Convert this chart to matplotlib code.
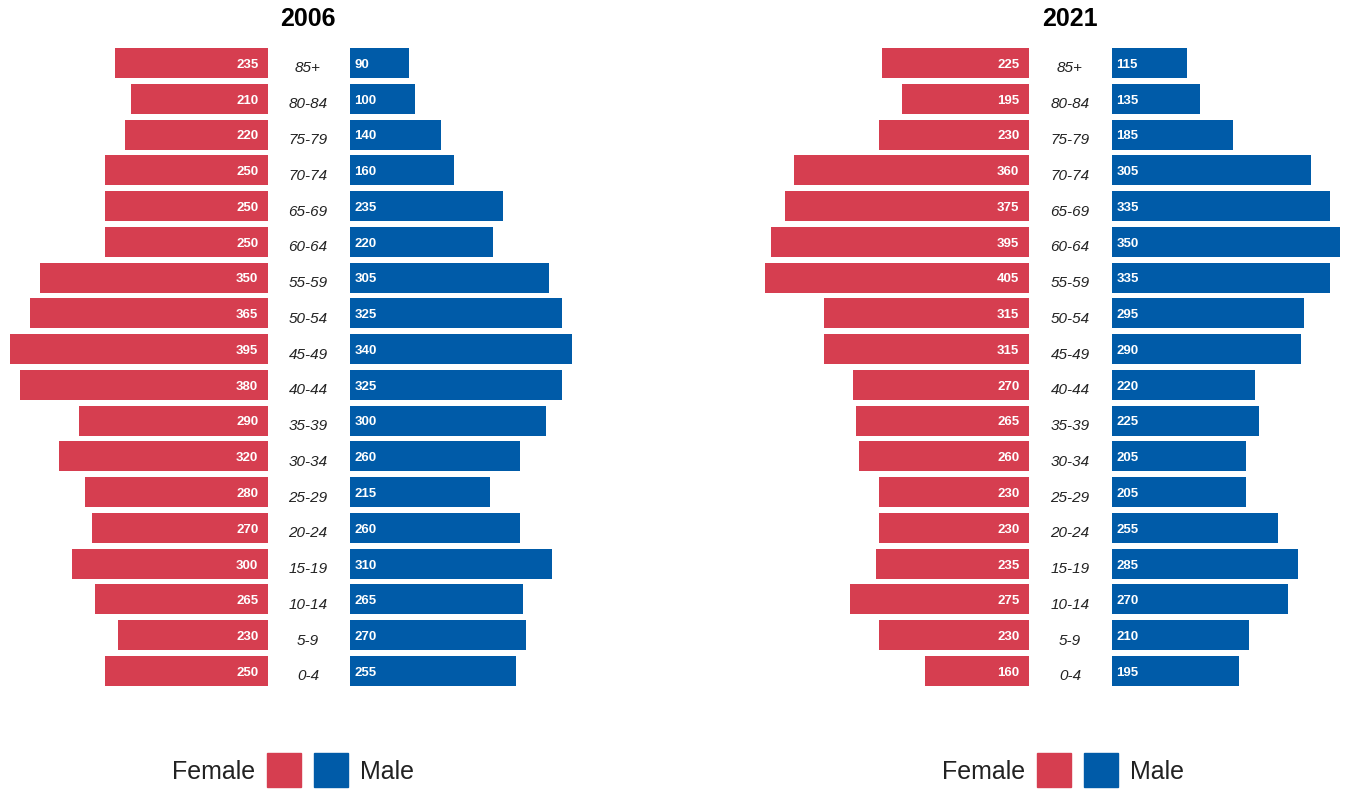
import matplotlib
matplotlib.use("Agg")
from matplotlib import pyplot as plt
from matplotlib.patches import Rectangle

ages = ['85+', '80-84', '75-79', '70-74', '65-69', '60-64', '55-59', '50-54', '45-49',
        '40-44', '35-39', '30-34', '25-29', '20-24', '15-19', '10-14', '5-9', '0-4']

female_2006 = [235, 210, 220, 250, 250, 250, 350, 365, 395, 380, 290, 320, 280, 270, 300, 265, 230, 250]
male_2006 = [90, 100, 140, 160, 235, 220, 305, 325, 340, 325, 300, 260, 215, 260, 310, 265, 270, 255]
female_2021 = [225, 195, 230, 360, 375, 395, 405, 315, 315, 270, 265, 260, 230, 230, 235, 275, 230, 160]
male_2021 = [115, 135, 185, 305, 335, 350, 335, 295, 290, 220, 225, 205, 205, 255, 285, 270, 210, 195]

RED = '#D63E50'
BLUE = '#005BA8'
plt.rcParams['font.family'] = ['Liberation Sans', 'DejaVu Sans']

W, H = 1348, 792
fig = plt.figure(figsize=(W / 100, H / 100), dpi=100)

scale = 0.652          # px per unit
row_top, row_bot = 63, 671
step = (row_bot - row_top) / (len(ages) - 1)
ax_top = row_top - step / 2
ax_bot = row_bot + step / 2
ypos = list(range(len(ages)))[::-1]


def px_axes(left, right):
    return fig.add_axes([left / W, 1 - ax_bot / H, (right - left) / W, (ax_bot - ax_top) / H])


def panel(title, females, males, f_right, m_left, center, leg_x):
    fmax, mmax = 410, 370
    axf = px_axes(f_right - fmax * scale, f_right)
    axm = px_axes(m_left, m_left + mmax * scale)
    axf.barh(ypos, females, height=0.84, color=RED)
    axm.barh(ypos, males, height=0.84, color=BLUE)
    axf.set_xlim(fmax, 0)
    axm.set_xlim(0, mmax)
    for ax in (axf, axm):
        ax.set_ylim(-0.5, len(ages) - 0.5)
        ax.axis('off')
    for y, v in zip(ypos, females):
        axf.annotate(str(v), (0, y), xytext=(-7, -1.3), textcoords='offset points',
                     ha='right', va='center', color='white', fontsize=9.5, fontweight='bold')
    for y, v in zip(ypos, males):
        axm.annotate(str(v), (0, y), xytext=(3, -1.3), textcoords='offset points',
                     ha='left', va='center', color='white', fontsize=9.5, fontweight='bold')
    for i, a in enumerate(ages):
        ypx = row_top + i * step + 5.5
        fig.text(center / W, 1 - ypx / H, a, ha='center', va='center',
                 fontsize=11, style='italic', color='#222222')
    fig.text(center / W, 1 - 19 / H, title, ha='center', va='center',
             fontsize=18, fontweight='bold')
    # legend
    ly = 770
    fig.text((leg_x - 12) / W, 1 - (ly + 2) / H, 'Female', ha='right', va='center', fontsize=18,
             color='#222222')
    fig.patches.append(Rectangle((leg_x / W, 1 - (ly + 17) / H), 34 / W, 34 / H,
                                 transform=fig.transFigure, color=RED))
    fig.patches.append(Rectangle(((leg_x + 47) / W, 1 - (ly + 17) / H), 34 / W, 34 / H,
                                 transform=fig.transFigure, color=BLUE))
    fig.text((leg_x + 93) / W, 1 - (ly + 2) / H, 'Male', ha='left', va='center', fontsize=18,
             color='#222222')


panel('2006', female_2006, male_2006, 268, 350, 308, 267)
panel('2021', female_2021, male_2021, 1029, 1112, 1070, 1037)

fig.savefig('out.png', dpi=100)
